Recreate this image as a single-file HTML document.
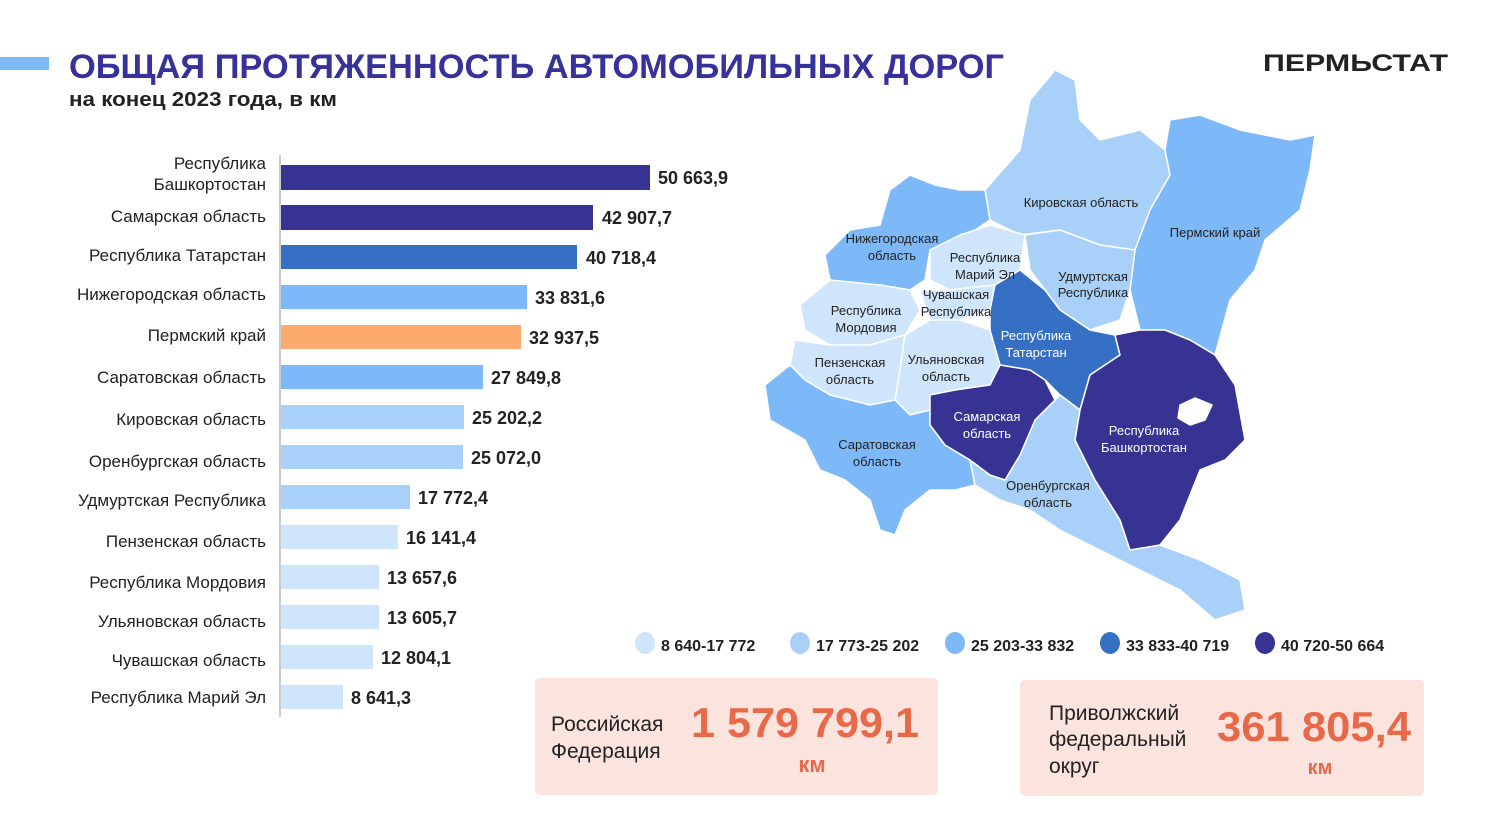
<!DOCTYPE html>
<html><head><meta charset="utf-8"><style>
html,body{margin:0;padding:0;background:#fff;}
svg{display:block;font-family:"Liberation Sans",sans-serif;}
</style></head><body>
<svg width="1497" height="831" viewBox="0 0 1497 831" xmlns="http://www.w3.org/2000/svg">
<rect x="0" y="57" width="49" height="13" fill="#7DB8F8"/>
<text x="69" y="78" font-size="34" font-weight="bold" fill="#36329A" textLength="935" lengthAdjust="spacingAndGlyphs">ОБЩАЯ ПРОТЯЖЕННОСТЬ АВТОМОБИЛЬНЫХ ДОРОГ</text>
<text x="69" y="106" font-size="20" font-weight="bold" fill="#222" textLength="268" lengthAdjust="spacingAndGlyphs">на конец  2023 года, в км</text>
<text x="1263" y="71" font-size="24" font-weight="bold" fill="#222" textLength="185" lengthAdjust="spacingAndGlyphs">ПЕРМЬСТАТ</text>

<line x1="280" y1="155" x2="280" y2="717" stroke="#999" stroke-width="1"/>
<g font-size="17" fill="#222" text-anchor="end">
<text x="266" y="169">Республика</text><text x="266" y="190">Башкортостан</text>
<text x="266" y="222">Самарская область</text>
<text x="266" y="261">Республика Татарстан</text>
<text x="266" y="300">Нижегородская область</text>
<text x="266" y="341">Пермский край</text>
<text x="266" y="383">Саратовская область</text>
<text x="266" y="425">Кировская  область</text>
<text x="266" y="467">Оренбургская область</text>
<text x="266" y="506">Удмуртская Республика</text>
<text x="266" y="547">Пензенская область</text>
<text x="266" y="588">Республика Мордовия</text>
<text x="266" y="627">Ульяновская область</text>
<text x="266" y="666">Чувашская область</text>
<text x="266" y="703">Республика Марий Эл</text>
</g>
<g>
<rect x="281" y="165" width="369" height="25" fill="#363393"/>
<rect x="281" y="205" width="312" height="25" fill="#363393"/>
<rect x="281" y="245" width="296" height="24" fill="#3670C4"/>
<rect x="281" y="285" width="246" height="24" fill="#7DB8F8"/>
<rect x="281" y="325" width="240" height="24" fill="#FDAA6F"/>
<rect x="281" y="365" width="202" height="24" fill="#7DB8F8"/>
<rect x="281" y="405" width="183" height="24" fill="#A9D0F8"/>
<rect x="281" y="445" width="182" height="24" fill="#A9D0F8"/>
<rect x="281" y="485" width="129" height="24" fill="#A9D0F8"/>
<rect x="281" y="525" width="117" height="24" fill="#CFE5FC"/>
<rect x="281" y="565" width="98" height="24" fill="#CFE5FC"/>
<rect x="281" y="605" width="98" height="24" fill="#CFE5FC"/>
<rect x="281" y="645" width="92" height="24" fill="#CFE5FC"/>
<rect x="281" y="685" width="62" height="24" fill="#CFE5FC"/>
</g>
<g font-size="18" font-weight="bold" fill="#222">
<text x="658" y="184">50 663,9</text>
<text x="602" y="224">42 907,7</text>
<text x="586" y="264">40 718,4</text>
<text x="535" y="304">33 831,6</text>
<text x="529" y="344">32 937,5</text>
<text x="491" y="384">27 849,8</text>
<text x="472" y="424">25 202,2</text>
<text x="471" y="464">25 072,0</text>
<text x="418" y="504">17 772,4</text>
<text x="406" y="544">16 141,4</text>
<text x="387" y="584">13 657,6</text>
<text x="387" y="624">13 605,7</text>
<text x="381" y="664">12 804,1</text>
<text x="351" y="704">8 641,3</text>
</g>

<g stroke="#fff" stroke-width="1.5" stroke-linejoin="round">
<polygon fill="#A9D0F8" points="1020,150 1030,100 1055,70 1075,80 1080,120 1100,140 1140,130 1165,150 1170,175 1150,210 1135,250 1100,245 1060,230 1020,235 990,220 985,190"/>
<polygon fill="#7DB8F8" points="1165,150 1170,120 1200,115 1240,130 1290,140 1315,135 1310,170 1300,210 1265,240 1255,270 1230,300 1215,355 1190,340 1165,330 1140,330 1130,290 1135,250 1150,210 1170,175"/>
<polygon fill="#7DB8F8" points="825,255 850,230 880,225 890,190 910,175 935,185 960,190 985,190 990,220 960,240 930,250 925,280 910,290 880,285 860,290 830,280"/>
<polygon fill="#CFE5FC" points="930,250 960,235 990,225 1025,235 1020,270 995,285 950,290 930,280"/>
<polygon fill="#A9D0F8" points="1025,235 1060,230 1100,245 1135,250 1130,290 1120,320 1090,330 1060,310 1045,290 1030,270"/>
<polygon fill="#CFE5FC" points="920,290 950,290 995,285 990,310 960,320 930,320"/>
<polygon fill="#CFE5FC" points="800,305 830,280 880,285 910,290 920,310 905,335 870,345 830,345 805,330"/>
<polygon fill="#3670C4" points="995,285 1020,270 1045,290 1060,310 1090,330 1115,335 1120,355 1090,375 1080,410 1060,395 1045,380 1030,370 1000,365 990,335 990,310"/>
<polygon fill="#CFE5FC" points="795,340 830,345 870,345 905,335 900,370 895,400 870,405 830,395 805,380 790,365"/>
<polygon fill="#CFE5FC" points="905,335 930,320 960,320 990,330 1000,365 990,385 955,390 930,410 910,415 895,400 900,370"/>
<polygon fill="#7DB8F8" points="765,385 790,365 805,380 830,395 870,405 895,400 910,415 930,410 930,425 945,445 970,460 975,485 955,490 930,490 905,510 895,535 880,530 870,500 845,480 820,470 805,440 770,420"/>
<polygon fill="#A9D0F8" points="975,485 970,460 990,475 1005,480 1020,455 1035,420 1055,400 1060,395 1080,410 1075,440 1095,480 1120,520 1130,550 1160,545 1200,560 1240,580 1245,610 1215,620 1180,590 1140,570 1100,550 1060,530 1030,510 1000,500"/>
<polygon fill="#363393" points="930,395 955,390 990,385 1000,365 1030,370 1045,380 1055,400 1035,420 1020,455 1005,480 990,475 970,460 945,445 930,425"/>
<polygon fill="#363393" points="1080,410 1090,375 1120,355 1115,335 1140,330 1165,330 1190,340 1215,355 1235,385 1245,440 1225,460 1200,470 1180,520 1160,545 1130,550 1120,520 1095,480 1075,440"/>
<polygon fill="#fff" points="1180,405 1195,398 1212,405 1205,420 1190,425 1178,418"/>
</g>
<g font-size="13" text-anchor="middle" fill="#222">
<text x="1081" y="207">Кировская область</text>
<text x="1215" y="237">Пермский край</text>
<text x="892" y="243">Нижегородская</text><text x="892" y="260">область</text>
<text x="985" y="262">Республика</text><text x="985" y="279">Марий Эл</text>
<text x="1093" y="281">Удмуртская</text><text x="1093" y="297">Республика</text>
<text x="956" y="299">Чувашская</text><text x="956" y="316">Республика</text>
<text x="866" y="315">Республика</text><text x="866" y="332">Мордовия</text>
<text x="850" y="367">Пензенская</text><text x="850" y="384">область</text>
<text x="946" y="364">Ульяновская</text><text x="946" y="381">область</text>
<text x="877" y="449">Саратовская</text><text x="877" y="466">область</text>
<text x="1048" y="490">Оренбургская</text><text x="1048" y="507">область</text>
</g>
<g font-size="13" text-anchor="middle" fill="#fff">
<text x="1036" y="340">Республика</text><text x="1036" y="357">Татарстан</text>
<text x="987" y="421">Самарская</text><text x="987" y="438">область</text>
<text x="1144" y="435">Республика</text><text x="1144" y="452">Башкортостан</text>
</g>

<g font-size="16" font-weight="bold" fill="#222">
<ellipse cx="645" cy="643" rx="10" ry="11" fill="#CFE5FC"/><text x="661" y="651">8 640-17 772</text>
<ellipse cx="800" cy="643" rx="10" ry="11" fill="#A9D0F8"/><text x="816" y="651">17 773-25 202</text>
<ellipse cx="955" cy="643" rx="10" ry="11" fill="#7DB8F8"/><text x="971" y="651">25 203-33 832</text>
<ellipse cx="1110" cy="643" rx="10" ry="11" fill="#3670C4"/><text x="1126" y="651">33 833-40 719</text>
<ellipse cx="1265" cy="643" rx="10" ry="11" fill="#363393"/><text x="1281" y="651">40 720-50 664</text>
</g>

<rect x="535" y="678" width="403" height="117" rx="5" fill="#FBE3DE"/>
<rect x="1020" y="680" width="404" height="116" rx="5" fill="#FBE3DE"/>
<g font-size="21" fill="#222">
<text x="551" y="731">Российская</text><text x="551" y="758">Федерация</text>
<text x="1049" y="720">Приволжский</text><text x="1049" y="746">федеральный</text><text x="1049" y="773">округ</text>
</g>
<g font-weight="bold" fill="#E8694A" text-anchor="middle">
<text x="805" y="737" font-size="42" textLength="228" lengthAdjust="spacingAndGlyphs">1 579 799,1</text>
<text x="812" y="772" font-size="22">км</text>
<text x="1314" y="741" font-size="42" textLength="194" lengthAdjust="spacingAndGlyphs">361 805,4</text>
<text x="1320" y="774" font-size="20">км</text>
</g>
</svg>
</body></html>
